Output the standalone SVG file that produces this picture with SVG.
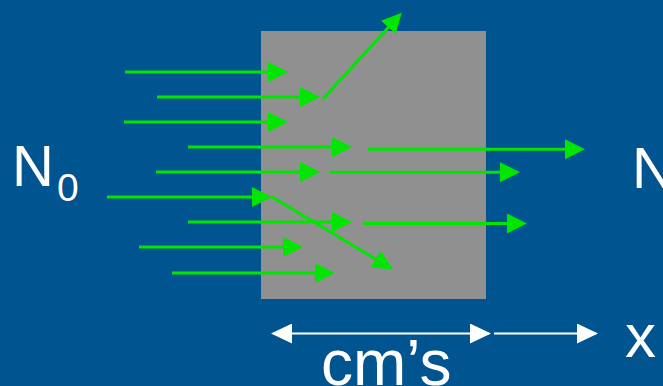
<svg xmlns="http://www.w3.org/2000/svg" width="663" height="386" viewBox="0 0 663 386">
<style>
.g{stroke:#00e600;stroke-width:3;fill:none;marker-end:url(#ga)}
.w{stroke:#ffffff;stroke-width:2;fill:none}
.t{font-family:"Liberation Sans",Arial,sans-serif;fill:#ffffff}
</style>
<defs>
<marker id="ga" markerUnits="userSpaceOnUse" markerWidth="20" markerHeight="20" refX="17" refY="10" orient="auto" viewBox="0 0 20 20">
<path d="M0,0 L20,10 L0,20 Z" fill="#00e600"/>
</marker>
<marker id="wa" markerUnits="userSpaceOnUse" markerWidth="21" markerHeight="20" refX="19" refY="10" orient="auto-start-reverse" viewBox="0 0 21 20">
<path d="M0,0 L21,10 L0,20 Z" fill="#ffffff"/>
</marker>
</defs>
<rect width="663" height="386" fill="#00548f"/>
<g id="slab"><rect x="261" y="31" width="225" height="268" fill="#909090"/></g>
<g id="label-n0" class="t"><text x="12" y="186" font-size="58">N</text><text x="57" y="201" font-size="39">0</text></g>
<g id="label-n" class="t"><text x="632" y="188" font-size="58">N</text></g>
<g id="label-cm" class="t"><text x="321" y="385" font-size="64">cm’s</text></g>
<g id="label-x" class="t"><text x="625" y="357" font-size="62">x</text></g>
<g id="connectors">
<line class="g" x1="125" y1="72" x2="285" y2="72"/>
<line class="g" x1="157" y1="97" x2="317" y2="97"/>
<line class="g" x1="124" y1="122" x2="285" y2="122"/>
<line class="g" x1="322.7" y1="99.3" x2="399.7" y2="14.9"/>
<line class="g" x1="188" y1="147" x2="349" y2="147"/>
<line class="g" x1="368" y1="149.3" x2="582" y2="149.3"/>
<line class="g" x1="156" y1="172" x2="317" y2="172"/>
<line class="g" x1="330" y1="172.3" x2="517" y2="172.3"/>
<line class="g" x1="107" y1="197" x2="269" y2="197"/>
<line class="g" x1="271.7" y1="196.7" x2="390.1" y2="267.8"/>
<line class="g" x1="188" y1="222" x2="349" y2="222"/>
<line class="g" x1="363" y1="223.5" x2="524" y2="223.5"/>
<line class="g" x1="139" y1="247" x2="300" y2="247"/>
<line class="g" x1="172" y1="273" x2="332" y2="273"/>
<line class="w" x1="273" y1="333.5" x2="489" y2="333.5" marker-start="url(#wa)" marker-end="url(#wa)"/>
<line class="w" x1="494" y1="333.5" x2="596" y2="333.5" marker-end="url(#wa)"/>
</g>
</svg>
